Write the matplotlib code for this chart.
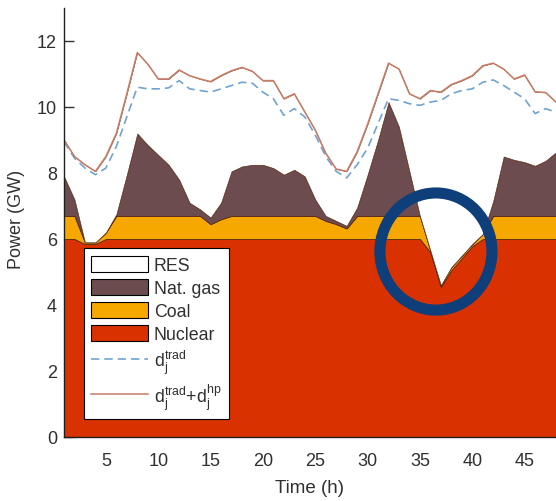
import matplotlib
matplotlib.use('Agg')
import matplotlib.pyplot as plt
from matplotlib.patches import Patch, Ellipse
from matplotlib.lines import Line2D

plt.rcParams['font.family'] = ['Liberation Sans', 'DejaVu Sans']
plt.rcParams['mathtext.default'] = 'regular'

hours = list(range(1, 49))

# stacked tops (GW)
nuclear = [6.0, 6.0, 5.85, 5.85, 6.0, 6.0, 6.0, 6.0, 6.0, 6.0,
           6.0, 6.0, 6.0, 6.0, 6.0, 6.0, 6.0, 6.0, 6.0, 6.0,
           6.0, 6.0, 6.0, 6.0, 6.0, 6.0, 6.0, 6.0, 6.0, 6.0,
           6.0, 6.0, 6.0, 6.0, 6.0, 5.6, 4.55, 5.05, 5.42, 5.78,
           6.0, 6.0, 6.0, 6.0, 6.0, 6.0, 6.0, 6.0]
coal_top = [6.7, 6.7, 5.9, 5.9, 6.2, 6.7, 6.7, 6.7, 6.7, 6.7,
            6.7, 6.7, 6.7, 6.7, 6.45, 6.6, 6.7, 6.7, 6.7, 6.7,
            6.7, 6.7, 6.7, 6.7, 6.7, 6.55, 6.45, 6.32, 6.7, 6.7,
            6.7, 6.7, 6.7, 6.7, 6.7, 5.65, 4.6, 5.15, 5.5, 5.85,
            6.15, 6.7, 6.7, 6.7, 6.7, 6.7, 6.7, 6.7]
gas_top = [7.9, 7.2, 5.9, 5.9, 6.2, 6.75, 7.95, 9.2, 8.85, 8.55,
           8.25, 7.8, 7.1, 6.9, 6.65, 7.1, 8.05, 8.2, 8.25, 8.25,
           8.15, 7.95, 8.1, 7.9, 7.2, 6.7, 6.55, 6.4, 6.95, 7.95,
           9.0, 10.15, 9.4, 8.05, 6.7, 5.65, 4.6, 5.15, 5.5, 5.85,
           6.15, 7.15, 8.5, 8.4, 8.33, 8.22, 8.37, 8.63]
d_trad = [8.95, 8.45, 8.15, 7.95, 8.15, 8.8, 9.7, 10.6, 10.55, 10.55,
          10.58, 10.8, 10.55, 10.5, 10.45, 10.55, 10.65, 10.75, 10.72, 10.45,
          10.25, 9.75, 9.95, 9.7, 9.15, 8.5, 8.05, 7.85, 8.25, 8.75,
          9.5, 10.25, 10.2, 10.1, 10.05, 10.15, 10.2, 10.4, 10.5, 10.55,
          10.75, 10.82, 10.65, 10.45, 10.25, 9.8, 9.95, 9.84]
d_total = [9.0, 8.5, 8.25, 8.05, 8.5, 9.2, 10.4, 11.65, 11.3, 10.85,
           10.85, 11.12, 10.95, 10.85, 10.77, 10.95, 11.1, 11.2, 11.08, 10.8,
           10.8, 10.25, 10.4, 9.85, 9.3, 8.6, 8.12, 8.05, 8.64, 9.48,
           10.4, 11.33, 11.15, 10.4, 10.25, 10.5, 10.45, 10.68, 10.8, 10.95,
           11.25, 11.33, 11.15, 10.85, 10.97, 10.46, 10.44, 10.15]

# highlight ring around the nuclear dip: centre (h, GW), size (h, GW)
ring_center = (36.53, 5.62)
ring_size = (10.7, 3.55)

c_nuc = '#d93100'
c_coal = '#f6a700'
c_gas = '#6c4c4e'
c_edge = '#5a2a12'
c_tot = '#c97a62'
c_trad = '#6fa3d2'
c_ring = '#0f3f7a'
c_txt = '#303030'

fig = plt.figure(figsize=(5.56, 5.02), dpi=100)
ax = fig.add_axes([0.1151, 0.1275, 0.8849, 0.8546])

ax.fill_between(hours, 0, nuclear, facecolor=c_nuc, edgecolor=c_edge, lw=0.6)
ax.fill_between(hours, nuclear, coal_top, facecolor=c_coal, edgecolor=c_edge, lw=0.6)
ax.fill_between(hours, coal_top, gas_top, facecolor=c_gas, edgecolor=c_edge, lw=0.6)
ax.fill_between(hours, gas_top, d_total, facecolor='white', edgecolor=c_edge, lw=0.4)
ax.plot(hours, d_trad, color=c_trad, lw=1.2, dashes=(5, 3))
ax.plot(hours, d_total, color=c_tot, lw=1.1)

ax.add_patch(Ellipse(ring_center, ring_size[0], ring_size[1], fill=False,
                     edgecolor=c_ring, lw=8, zorder=6))

ax.set_xlim(1, 48)
ax.set_ylim(0, 13)
ax.set_xticks([5, 10, 15, 20, 25, 30, 35, 40, 45])
ax.set_yticks([0, 2, 4, 6, 8, 10, 12])
ax.set_axisbelow(True)
ax.tick_params(direction='in', length=7, width=1, labelsize=13, colors=c_txt)
ax.tick_params(axis='x', pad=11)
ax.tick_params(axis='y', pad=5)
for s in ['top', 'right']:
    ax.spines[s].set_visible(False)
for s in ['left', 'bottom']:
    ax.spines[s].set_linewidth(1.0)
    ax.spines[s].set_color('#202020')
    ax.spines[s].set_zorder(3)

ax.set_xlabel('Time (h)', fontsize=13.5, color=c_txt)
ax.set_ylabel('Power (GW)', fontsize=13, color=c_txt)
ax.xaxis.set_label_coords(0.5, -0.097)
ax.yaxis.set_label_coords(-0.079, 0.51)

handles = [
    Patch(facecolor='white', edgecolor='black', lw=0.8),
    Patch(facecolor=c_gas, edgecolor='black', lw=0.8),
    Patch(facecolor=c_coal, edgecolor='black', lw=0.8),
    Patch(facecolor=c_nuc, edgecolor='black', lw=0.8),
    Line2D([], [], color=c_trad, lw=1.2, dashes=(5, 3)),
    Line2D([], [], color=c_tot, lw=1.1),
]
labels = ['RES', 'Nat. gas', 'Coal', 'Nuclear',
          r'd$_j^{trad}$', r'd$_j^{trad}$+d$_j^{hp}$']
leg = ax.legend(handles, labels, loc='lower left', bbox_to_anchor=(0.0407, 0.042),
                borderaxespad=0, fontsize=12.8, handlelength=3.2, handleheight=1.0,
                handletextpad=0.3, labelspacing=0.28, borderpad=0.42,
                fancybox=False, framealpha=1, edgecolor='black')
leg.get_frame().set_linewidth(0.8)
for t in leg.get_texts():
    t.set_color(c_txt)

fig.savefig('out.png', dpi=100)
